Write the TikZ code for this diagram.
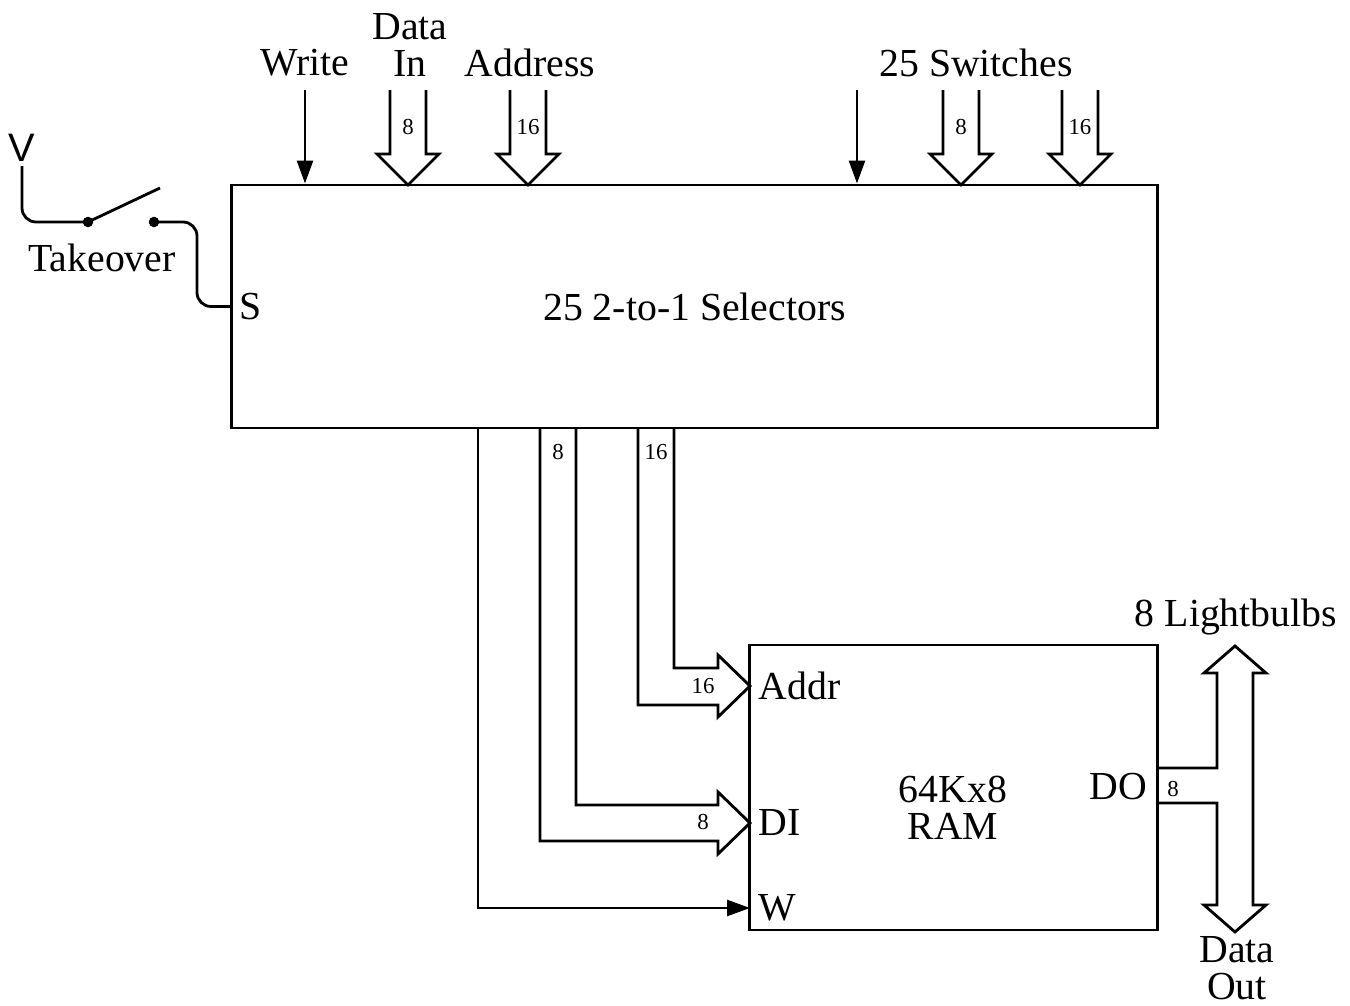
\documentclass[tikz,border=0pt]{standalone}
\usepackage{fontspec}
\setmainfont{Liberation Serif}
\setsansfont{Liberation Sans}
\usetikzlibrary{arrows.meta, positioning, calc}

\begin{document}
\begin{tikzpicture}[
    x=0.01cm, y=-0.01cm,
    font=\fontsize{11.3pt}{10.6pt}\selectfont,
    box/.style = {rectangle, draw, line width=0.8pt, inner sep=0pt},
    wire/.style = {draw, line width=0.8pt},
    sig/.style = {draw, line width=0.8pt, -{Triangle[length=6.5pt, width=4.5pt]}},
    bus/.style = {draw, line width=0.8pt, line join=miter},
    num/.style = {font=\fontsize{6.5pt}{7pt}\selectfont, inner sep=1pt},
    pin/.style = {inner sep=0pt},
    dot/.style = {circle, fill, inner sep=0pt, minimum size=3pt}
]
\useasboundingbox (0,0) rectangle (1350,1006);

% Blocks
\node [box, minimum width=9.25cm, minimum height=2.43cm] (sel) at (694.5,306.5) {25 2-to-1 Selectors};
\node [box, minimum width=4.07cm, minimum height=2.85cm] (ram) at (953.5,787.5) {};
\node [align=center] (ramtxt) at (953,808) {64Kx8\\RAM};

% Inputs on top
\node (write) at (305,63) {Write};
\node [align=center] (datain) at (410,45) {Data\\In};
\node (address) at (530,63) {Address};
\node (switches) at (976,63) {25 Switches};

\coordinate (wrtop) at (305,90);
\coordinate (dintop) at (408,90);
\coordinate (adtop) at (528,90);
\coordinate (swtop) at (857,90);
\coordinate (sw8top) at (961,90);
\coordinate (sw16top) at (1080,90);

% Takeover switch
\node [font=\sffamily\fontsize{11.3pt}{12pt}\selectfont] (v) at (22,148) {V};
\coordinate (vbot) at (22,166);
\node [dot] (c1) at (88,222) {};
\node [dot] (c2) at (154,222) {};
\coordinate (blade) at (160,188);
\node (takeover) at (102,258) {Takeover};
\node [pin, right=0.08cm of sel.west] (s) {S};

% RAM pins
\coordinate (addrin) at (750,686);
\coordinate (diin) at (750,823);
\coordinate (win) at (750,908);
\coordinate (wout) at (478,428);
\node [pin, right=0.08cm of addrin] (addr) {Addr};
\node [pin, right=0.08cm of diin] (di) {DI};
\node [pin, right=0.08cm of win] (w) {W};
\node [pin, anchor=east] (do) at (1148,787) {DO};

% Outputs
\node (bulbs) at (1236,617) {8 Lightbulbs};
\node [align=center] (dataout) at (1237,968) {Data\\Out};

% Edges
\path [sig] (wrtop) -- (wrtop |- sel.north);
\path [sig] (swtop) -- (swtop |- sel.north);

\path [bus] ($(dintop)+(-18,0)$) -- ++(0,64) -- ++(-13,0) -- ++(31,31) -- ++(31,-31) -- ++(-13,0) -- ++(0,-64);
\path [bus] ($(adtop)+(-18,0)$) -- ++(0,64) -- ++(-13,0) -- ++(31,31) -- ++(31,-31) -- ++(-13,0) -- ++(0,-64);
\path [bus] ($(sw8top)+(-18,0)$) -- ++(0,64) -- ++(-13,0) -- ++(31,31) -- ++(31,-31) -- ++(-13,0) -- ++(0,-64);
\path [bus] ($(sw16top)+(-18,0)$) -- ++(0,64) -- ++(-13,0) -- ++(31,31) -- ++(31,-31) -- ++(-13,0) -- ++(0,-64);

\node [num] at ($(dintop)+(0,37)$) {8};
\node [num] at ($(adtop)+(0,37)$) {16};
\node [num] at ($(sw8top)+(0,37)$) {8};
\node [num] at ($(sw16top)+(0,37)$) {16};

\path [wire, rounded corners=1.4mm] (vbot) |- (c1.center);
\path [wire] (c1.center) -- (blade);
\path [wire, rounded corners=1.4mm] (c2.center) -- (197,222) |- (sel.west);

% Selector to RAM
\path [bus] (674,428) |- (718,668) -- (718,655) -- (addrin) -- (718,717) -- (718,705) -| (638,428);
\path [bus] (576,428) |- (718,805) -- (718,792) -- (diin) -- (718,854) -- (718,841) -| (540,428);
\path [sig] (wout) |- (win);

\node [num] at (558,452) {8};
\node [num] at (656,452) {16};
\node [num] at (703,686) {16};
\node [num] at (703,822) {8};

% Data out bus
\path [bus] (1157,768) -- (1217,768) -- (1217,673) -- (1204,673) -- (1235,646) -- (1266,673) -- (1253,673)
    -- (1253,905) -- (1266,905) -- (1235,932) -- (1204,905) -- (1217,905) -- (1217,803) -- (1157,803);
\node [num] at (1173,789) {8};

\end{tikzpicture}
\end{document}
